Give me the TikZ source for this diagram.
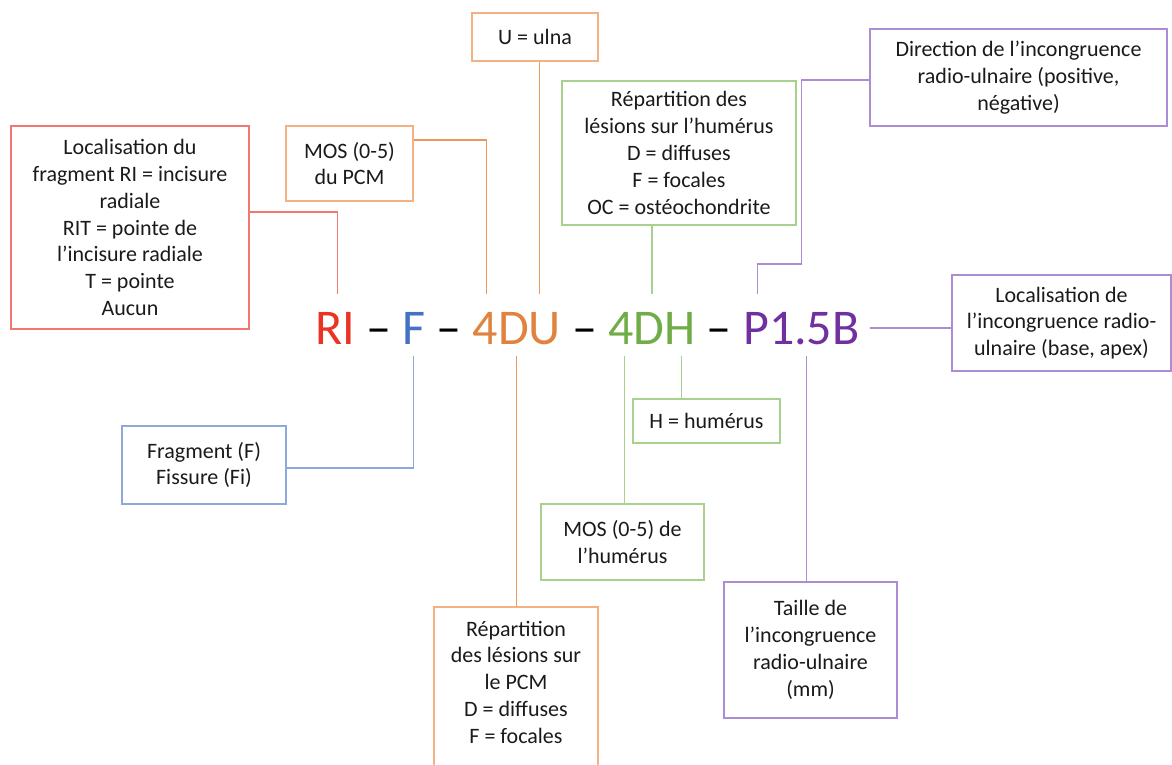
\documentclass[tikz,border=0pt]{standalone}
\usepackage{fontspec}
\setmainfont{Carlito}
\usetikzlibrary{positioning}

\definecolor{codeRed}{RGB}{234,51,35}
\definecolor{codeBlue}{RGB}{68,114,196}
\definecolor{codeOrange}{RGB}{224,131,63}
\definecolor{codeGreen}{RGB}{112,173,71}
\definecolor{codePurple}{RGB}{112,48,160}
\definecolor{boxRed}{RGB}{240,120,115}
\definecolor{boxBlue}{RGB}{140,168,220}
\definecolor{boxOrange}{RGB}{244,177,131}
\definecolor{lineOrange}{RGB}{236,150,95}
\definecolor{boxGreen}{RGB}{169,209,142}
\definecolor{boxPurple}{RGB}{172,140,212}
\definecolor{boxText}{RGB}{26,26,26}

\newcommand{\boxfont}{\fontsize{22}{26.8}\selectfont}
\newcommand{\codefont}{\fontsize{50}{60}\selectfont}

\tikzset{
  box/.style={draw=#1, line width=1.2pt, align=center, inner sep=0pt, text=boxText, font=\boxfont},
  link/.style={draw=#1, line width=1.2pt},
  code/.style={inner sep=0pt, outer sep=0pt, text height=50pt, text depth=12pt, font=\codefont},
  joiner/.style={code, inner xsep=11.3pt},
}

\begin{document}
\begin{tikzpicture}[x=1pt, y=-1pt]
  \useasboundingbox (0,0) rectangle (1172,765);
  % boxes
  \node[box=boxRed, minimum width=238pt, minimum height=203pt] (loc) at (130,227.5)
    {Localisation du\\fragment RI = incisure\\radiale\\RIT = pointe de\\l’incisure radiale\\T = pointe\\Aucun};
  \node[box=boxOrange, minimum width=127pt, minimum height=75pt] (mospcm) at (349.5,163.5) {MOS (0-5)\\du PCM};
  \node[box=boxOrange, minimum width=126pt, minimum height=48pt] (ulna) at (535,37) {U = ulna};
  \node[box=boxGreen, minimum width=234pt, minimum height=144pt] (rephum) at (679,153)
    {Répartition des\\lésions sur l’humérus\\D = diffuses\\F = focales\\OC = ostéochondrite};
  \node[box=boxPurple, minimum width=297pt, minimum height=97pt] (dir) at (1018.5,77.5)
    {Direction de l’incongruence\\radio-ulnaire (positive,\\négative)};
  \node[box=boxPurple, minimum width=219pt, minimum height=96pt] (locinc) at (1061.5,323)
    {Localisation de\\l’incongruence radio-\\ulnaire (base, apex)};
  \node[box=boxBlue, minimum width=164pt, minimum height=78pt] (frag) at (204,465) {Fragment (F)\\Fissure (Fi)};
  \node[box=boxGreen, minimum width=147pt, minimum height=44pt] (hum) at (706.5,421) {H = humérus};
  \node[box=boxGreen, minimum width=163pt, minimum height=76pt] (moshum) at (622.5,542) {MOS (0-5) de\\l’humérus};
  \node[box=boxOrange, minimum width=164pt, minimum height=177pt] (reppcm) at (516,695.4)
    {Répartition\\des lésions sur\\le PCM\\D = diffuses\\F = focales\\\mbox{}};
  \node[box=boxPurple, minimum width=173pt, minimum height=136pt] (taille) at (810.5,650)
    {Taille de\\l’incongruence\\radio-ulnaire\\(mm)};
  % code
  \node[code, text=codeRed, anchor=base west] (ri) at (315,344) {RI};
  \node[joiner, base right=0pt of ri] (d1) {–};
  \node[code, text=codeBlue, base right=0pt of d1] (f) {F};
  \node[joiner, base right=0pt of f] (d2) {–};
  \node[code, text=codeOrange, base right=0pt of d2] (du) {4DU};
  \node[joiner, base right=0pt of du] (d3) {–};
  \node[code, text=codeGreen, base right=0pt of d3] (dh) {4DH};
  \node[joiner, base right=0pt of dh] (d4) {–};
  \node[code, text=codePurple, base right=0pt of d4] (pb) {P1.5B};
  % connectors
  \draw[link=boxRed] ([yshift=15.5pt]loc.east) -| ([xshift=3pt]ri.north);
  \draw[link=lineOrange] ([yshift=23.5pt]mospcm.east) -| ([xshift=-30pt]du.north);
  \coordinate (du1) at ([xshift=23pt]du.north);
  \draw[link=lineOrange] (du1) -- (du1 |- ulna.south);
  \draw[link=boxGreen] (dh.north) -- (dh.north |- rephum.south);
  \draw[link=boxPurple] ([yshift=-2.5pt]dir.west) -| ([yshift=30pt]pb.north) -| ([xshift=-44pt]pb.north);
  \coordinate (pb1) at ([xshift=10pt,yshift=-3pt]pb.east);
  \draw[link=boxPurple] (pb1) -- (pb1 -| locinc.west);
  \draw[link=boxBlue] ([yshift=-3pt]frag.east) -| (f.south);
  \coordinate (dh1) at ([xshift=-27.6pt]dh.south);
  \coordinate (dh2) at ([xshift=29.4pt]dh.south);
  \draw[link=boxGreen] (dh1) -- (dh1 |- moshum.north);
  \draw[link=boxGreen] (dh2) -- (dh2 |- hum.north);
  \draw[link=lineOrange] (du.south) -- (du.south |- reppcm.north);
  \coordinate (pb2) at ([xshift=5pt]pb.south);
  \draw[link=boxPurple] (pb2) -- (pb2 |- taille.north);
\end{tikzpicture}
\end{document}
